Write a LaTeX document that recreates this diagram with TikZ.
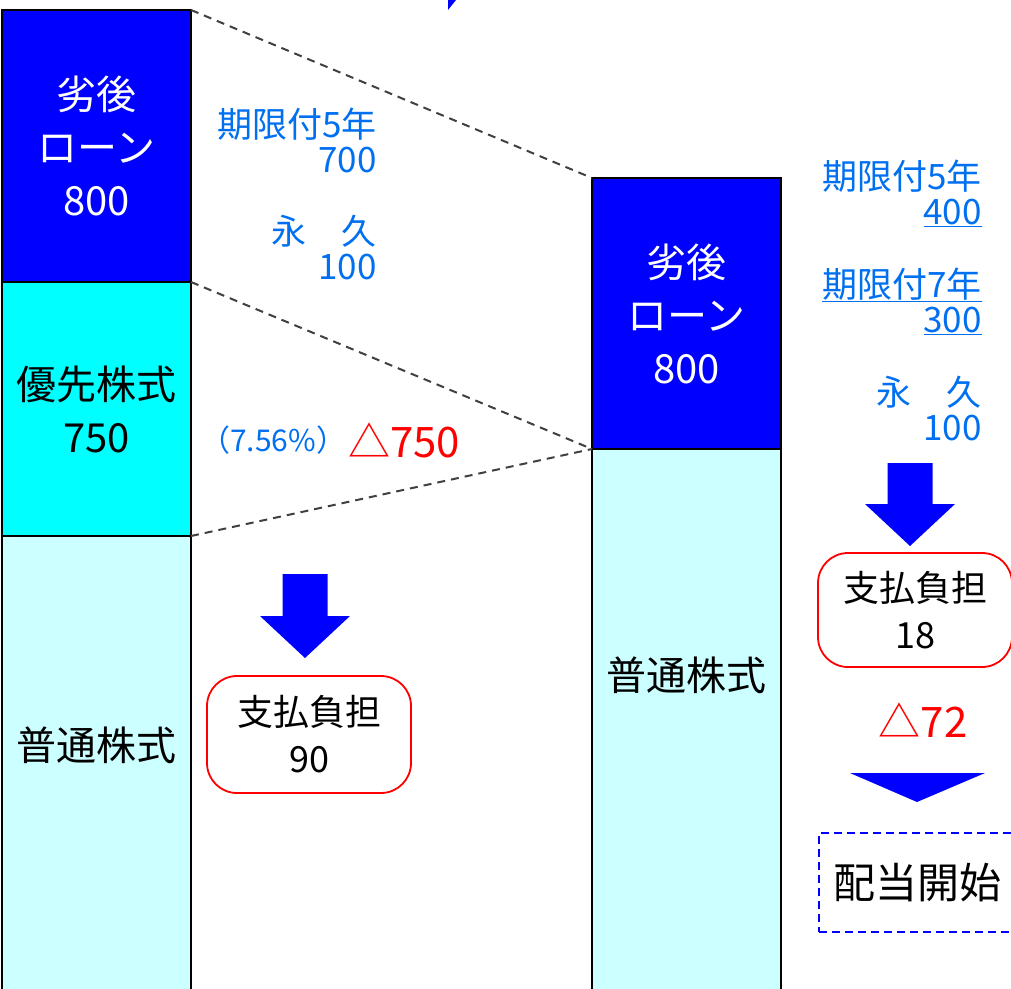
\documentclass[tikz,border=0pt]{standalone}
\usepackage{fontspec}
\setmainfont{Noto Sans CJK JP}
\usetikzlibrary{positioning}

\definecolor{subBlue}{HTML}{0000FF}
\definecolor{prefCyan}{HTML}{00FFFF}
\definecolor{commCyan}{HTML}{CCFFFF}
\definecolor{noteBlue}{HTML}{0070F0}
\definecolor{dashGrey}{HTML}{404040}

\begin{document}
\begin{tikzpicture}[
    x=1pt, y=-1pt,
    blk/.style={
        rectangle, draw=black, line width=2pt,
        minimum width=189pt, inner sep=0pt, outer sep=0pt,
        align=center, font=\fontsize{40}{53}\selectfont
    },
    bigtext/.style={inner sep=0pt, font=\fontsize{40}{53}\selectfont},
    note/.style={text=noteBlue, align=right, inner sep=0pt, font=\fontsize{35}{35}\selectfont},
    cost/.style={
        rectangle, rounded corners=30pt, draw=red, line width=1.8pt,
        align=center, inner sep=0pt, font=\fontsize{36}{47}\selectfont
    },
    loss/.style={text=red, inner sep=0pt, font=\fontsize{42}{42}\selectfont},
    blockarrow/.style={fill=subBlue},
    cut/.style={dash pattern=on 8pt off 6pt, draw=dashGrey, line width=2pt}
]
\path[use as bounding box, clip] (0,0) rectangle (1011,988);

% --- before: left column ---
\node[blk, fill=subBlue, text=white, minimum height=272pt] (lSub) at (96.5,146) {劣後\\ローン\\800};
\node[blk, fill=prefCyan, minimum height=254pt, below=0pt of lSub] (lPref) {優先株式\\750};
\node[blk, fill=commCyan, minimum height=560pt, below=0pt of lPref] (lComm) {};
\node[bigtext] (lCommText) at (96.5,745) {普通株式};

% --- after: right column ---
\node[blk, fill=subBlue, text=white, minimum height=271pt] (rSub) at (686.5,313.5) {劣後\\ローン\\800};
\node[blk, fill=commCyan, minimum height=560pt, below=0pt of rSub] (rComm) {};
\node[bigtext] (rCommText) at (686.5,675) {普通株式};

% --- dashed guides ---
\draw[cut] (lSub.north east) -- (rSub.north west);
\draw[cut] (lPref.north east) -- (rSub.south west);
\draw[cut] (lComm.north east) -- (rSub.south west);

% --- breakdown notes ---
\node[note, anchor=east] (lTerm5) at (377,140) {期限付5年\\700};
\node[note, anchor=east] (lPerp) at (377,248) {永\hspace{1em}久\\100};
\node[note, anchor=east] (rTerm5) at (982,193) {期限付5年\\\underline{400}};
\node[note, anchor=east] (rTerm7) at (982,301) {\underline{期限付7年}\\\underline{300}};
\node[note, anchor=east] (rPerp) at (982,409) {永\hspace{1em}久\\100};

\node[note, font=\fontsize{30}{30}\selectfont, anchor=west] (rate) at (200,440) {（7.56\%）};
\node[loss] (lossPref) at (404,440) {△750};

% --- payment burden ---
\coordinate (lArrow) at (305,574);
\fill[blockarrow, shift={(lArrow)}] (-22.5,0) -- (22.5,0) -- (22.5,42) -- (45,42) -- (0,84) -- (-45,42) -- (-22.5,42) -- cycle;
\node[cost, minimum width=204pt, minimum height=117pt] (lCost) at (309,734.5) {支払負担\\90};

\coordinate (rArrow) at (910,463);
\fill[blockarrow, shift={(rArrow)}] (-22.5,0) -- (22.5,0) -- (22.5,41) -- (45,41) -- (0,83) -- (-45,41) -- (-22.5,41) -- cycle;
\node[cost, minimum width=194pt, minimum height=114pt] (rCost) at (915,610) {支払負担\\18};
\node[loss] (lossDiv) at (923,720) {△72};
\fill[blockarrow] (850,773) -- (985,773) -- (917,802) -- cycle;
\node[draw=subBlue, dash pattern=on 8pt off 5pt, line width=1.8pt, minimum width=196pt, minimum height=99pt,
      font=\fontsize{42}{42}\selectfont] (divStart) at (917,882.5) {配当開始};

% --- arrow tip from above ---
\fill[blockarrow] (448,0) -- (456,0) -- (448,10) -- cycle;
\end{tikzpicture}
\end{document}
